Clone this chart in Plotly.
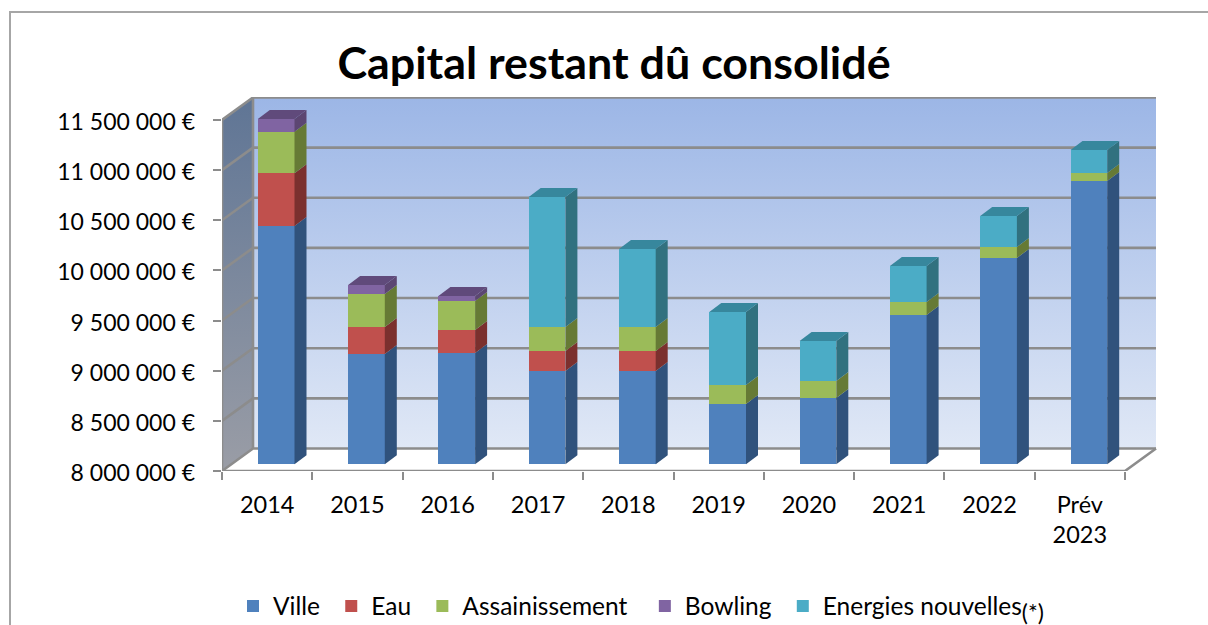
import plotly.graph_objects as go

categories = ["2014", "2015", "2016", "2017", "2018", "2019", "2020", "2021", "2022", "Prév<br>2023"]
ville = [10376000, 9100000, 9110000, 8930000, 8930000, 8601000, 8661000, 9489000, 10057000, 10825000]
eau = [525000, 269000, 229000, 200000, 200000, 0, 0, 0, 0, 0]
assainissement = [415000, 329000, 289000, 239000, 239000, 190000, 169000, 130000, 110000, 79000]
bowling = [127000, 90000, 50000, 0, 0, 0, 0, 0, 0, 0]
energies = [0, 0, 0, 1296000, 778000, 728000, 399000, 359000, 309000, 230000]
y_ticks = [8000000, 8500000, 9000000, 9500000, 10000000, 10500000, 11000000, 11500000]
y_labels = ["8 000 000 €", "8 500 000 €", "9 000 000 €", "9 500 000 €", "10 000 000 €",
            "10 500 000 €", "11 000 000 €", "11 500 000 €"]
NB = "\u00a0"
series = [
    ("Ville" + NB, ville, "#4f81bd", "#30527c", "#3f6797"),
    ("Eau" + NB, eau, "#c0504d", "#7b302e", "#93403d"),
    ("Assainissement" + NB * 2, assainissement, "#9bbb59", "#667a35", "#7c9647"),
    ("Bowling" + NB, bowling, "#8064a2", "#5c4672", "#604a7b"),
    ("Energies nouvelles<sub><span style='font-size:23px'>(*)</span></sub>", energies, "#4bacc6", "#31717f", "#37879d"),
]

W, H = 1208, 625
FONT = "Lato, Carlito, sans-serif"
GREY = "#8c8c8c"
# pixel calibration
PX_SLOT = 90.3
PX_PER_EUR = 100.3 / 1e6
px_x = lambda p: p / PX_SLOT
px_y = lambda p: p / PX_PER_EUR
Y0 = y_ticks[0]
Y1 = y_ticks[-1]
DX, DY = px_x(31), px_y(22.5)
BAR_W = px_x(36.7)
BAR_DX, BAR_LIFT = px_x(9), px_y(6.7)
SIDE_X, SIDE_Y = px_x(12), px_y(9)
N = len(categories)

fig = go.Figure()


def poly(xs, ys, color, axes=("x", "y"), **kw):
    fig.add_trace(go.Scatter(x=xs, y=ys, mode="lines", fill="toself", fillcolor=color,
                             line=dict(width=0, color=color), showlegend=False,
                             hoverinfo="skip", xaxis=axes[0], yaxis=axes[1], **kw))


# walls
poly([DX, DX + N, DX + N, DX, DX], [Y0 + DY, Y0 + DY, Y1 + DY, Y1 + DY, Y0 + DY], "#9cb6e6",
     fillgradient=dict(type="vertical", colorscale=[[0, "#e0e8f6"], [1, "#9cb6e6"]]))
poly([0, DX, DX, 0, 0], [Y0, Y0 + DY, Y1 + DY, Y1, Y0], "#5f7595",
     fillgradient=dict(type="vertical", colorscale=[[0, "#9a9da6"], [1, "#5f7595"]]))
poly([0, N, N + DX, DX, 0], [Y0, Y0, Y0 + DY, Y0 + DY, Y0], "#ffffff")

# gridlines + frame of the 3D box
gx, gy = [], []
for v in y_ticks:
    gx += [0, DX, DX + N, None]
    gy += [v, v + DY, v + DY, None]
gx += [0, N, N + DX, None, 0, 0, None, DX, DX]
gy += [Y0, Y0, Y0 + DY, None, Y0, Y1, None, Y0 + DY, Y1 + DY]
fig.add_trace(go.Scatter(x=gx, y=gy, mode="lines", line=dict(color=GREY, width=2.6),
                         showlegend=False, hoverinfo="skip"))

# bars
centers = [i + 0.5 + BAR_DX for i in range(N)]
cum = [Y0 + BAR_LIFT] * N
first = True
for name, vals, col, side, top in series:
    heights = [v - Y0 if first else v for v in vals]
    fig.add_trace(go.Bar(x=centers, y=heights, base=cum, width=BAR_W, name=name,
                         marker=dict(color=col, line=dict(width=0)), xaxis="x2", yaxis="y2"))
    new = [c + h for c, h in zip(cum, heights)]
    for i in range(N):
        if heights[i] > 0:
            xr = centers[i] + BAR_W / 2
            poly([xr, xr + SIDE_X, xr + SIDE_X, xr, xr],
                 [cum[i], cum[i] + SIDE_Y, new[i] + SIDE_Y, new[i], cum[i]], side, ("x2", "y2"))
    cum = new
    first = False

# top faces use the colour of the uppermost series of each bar
for i in range(N):
    top_col = next(s[4] for s in reversed(series) if s[1][i] > 0)
    xl, xr = centers[i] - BAR_W / 2, centers[i] + BAR_W / 2
    poly([xl, xr, xr + SIDE_X, xl + SIDE_X, xl],
         [cum[i], cum[i], cum[i] + SIDE_Y, cum[i] + SIDE_Y, cum[i]], top_col, ("x2", "y2"))

# empty trace that keeps the label-carrying axis alive
fig.add_trace(go.Scatter(x=[None], y=[None], xaxis="x", yaxis="y3", showlegend=False, hoverinfo="skip"))

x_range = [0, px_x(935)]
y_range = [Y0, Y0 + px_y(374)]
x_dom = [222 / W, 1157 / W]
y_dom = [(H - 471) / H, (H - 97) / H]
LABEL_DROP = 2 / H

fig.update_layout(
    width=W, height=H, margin=dict(l=0, r=0, t=0, b=0, pad=0, autoexpand=False),
    paper_bgcolor="#ffffff", plot_bgcolor="rgba(0,0,0,0)", barmode="overlay", bargap=0,
    font=dict(family=FONT, color="#000000"),
    title=dict(text="<b>Capital restant dû consolidé</b>", x=614 / W, xanchor="center",
               y=1 - 63 / H, yanchor="middle", font=dict(family=FONT, size=44.8, color="#000000")),
    xaxis=dict(domain=x_dom, range=x_range, tickmode="array", tickvals=list(range(N + 1)),
               showticklabels=False, ticks="outside", ticklen=8, tickwidth=2, tickcolor=GREY,
               showgrid=False, zeroline=False, showline=False),
    yaxis=dict(domain=y_dom, range=y_range, tickmode="array", tickvals=y_ticks,
               showticklabels=False, ticks="outside", ticklen=8, tickwidth=2, tickcolor=GREY,
               automargin=False, showgrid=False, zeroline=False, showline=False),
    yaxis3=dict(domain=[y_dom[0] - LABEL_DROP, y_dom[1] - LABEL_DROP], range=y_range,
                anchor="x", tickmode="array", tickvals=y_ticks, ticktext=y_labels,
                ticks="", tickfont=dict(family=FONT, size=23, color="#000000"),
                ticklabelstandoff=26, automargin=False,
                showgrid=False, zeroline=False, showline=False),
    xaxis2=dict(domain=x_dom, range=x_range, overlaying="x", anchor="y2", side="bottom",
                tickmode="array", tickvals=[i + 0.5 for i in range(N)], ticktext=categories,
                ticks="", tickfont=dict(family=FONT, size=23.5, color="#000000"),
                ticklabelstandoff=17, automargin=False,
                showgrid=False, zeroline=False, showline=False),
    yaxis2=dict(domain=y_dom, range=y_range, overlaying="y", anchor="x2", visible=False),
    legend=dict(orientation="h", xref="container", yref="container",
                x=233 / W, xanchor="left", y=1 - 606 / H, yanchor="middle",
                font=dict(family=FONT, size=24.5, color="#000000"), bgcolor="rgba(0,0,0,0)",
                traceorder="normal"),
    shapes=[dict(type="path", xref="paper", yref="paper",
                 path=f"M {10 / W},0 L {10 / W},{1 - 12 / H} L 1,{1 - 12 / H}",
                 line=dict(color="#a6a6a6", width=2))],
)

fig.write_html("out.html", config={"displayModeBar": False},
               post_script="document.body.style.margin='0';document.body.style.overflow='hidden';")
